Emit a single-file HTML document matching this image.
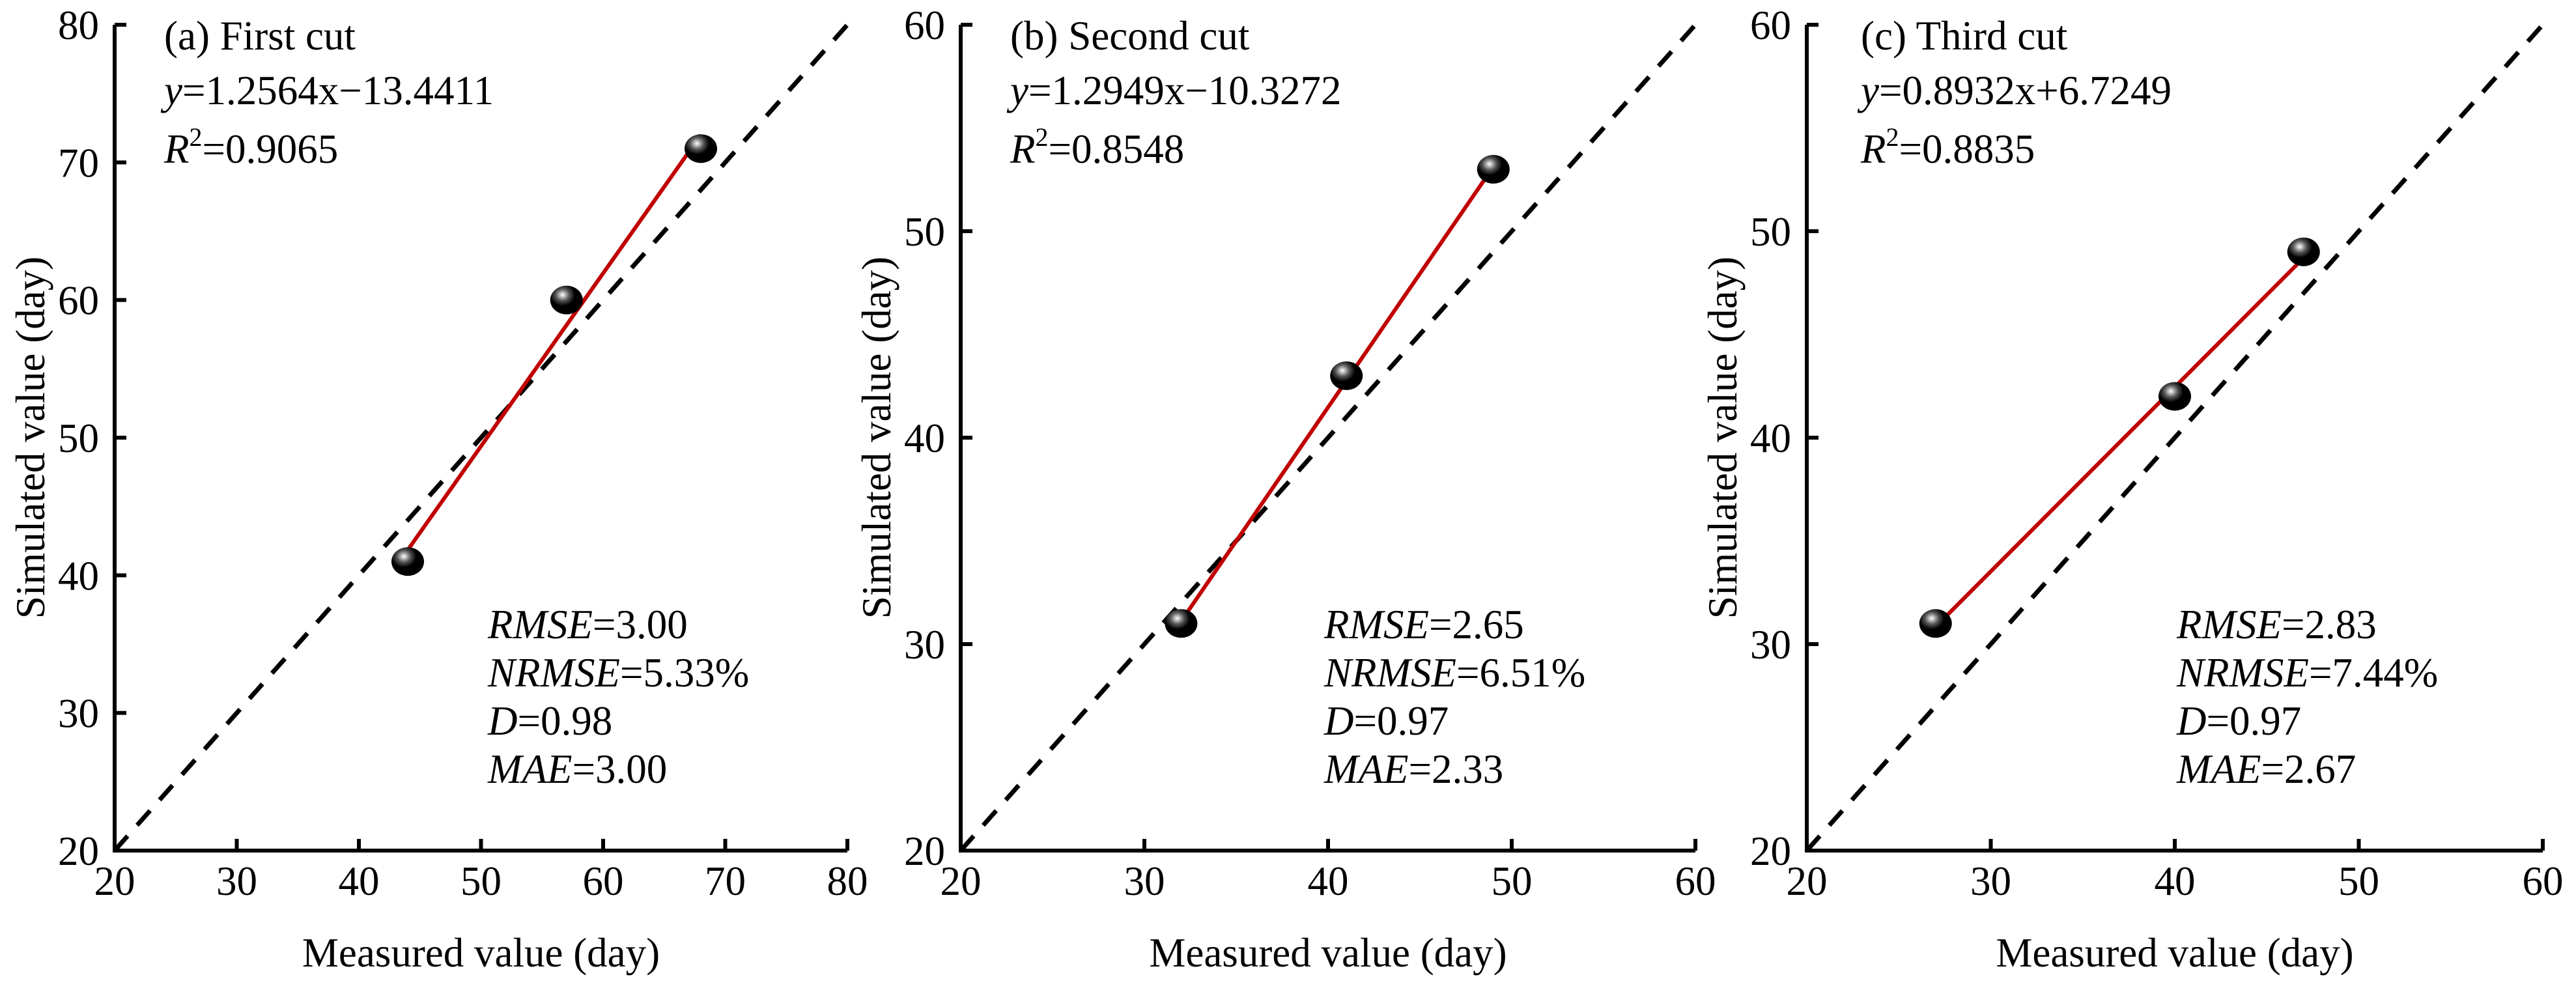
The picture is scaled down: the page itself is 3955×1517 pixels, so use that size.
<!DOCTYPE html>
<html><head><meta charset="utf-8"><style>
html,body{margin:0;padding:0;background:#fff;}
svg{display:block;font-family:"Liberation Serif",serif;}
</style></head><body>
<svg id="chart" width="3955" height="1517" viewBox="0 0 3955 1517" xmlns="http://www.w3.org/2000/svg">
<defs>
<radialGradient id="sph" cx="0.38" cy="0.32" r="0.7">
<stop offset="0" stop-color="#fff"/><stop offset="0.12" stop-color="#bbb"/><stop offset="0.3" stop-color="#555"/><stop offset="0.55" stop-color="#000"/><stop offset="1" stop-color="#000"/>
</radialGradient>
</defs>
</svg>
<script>
const panelTitles = ["(a) First cut", "(b) Second cut", "(c) Third cut"];
const eqSlope = [1.2564, 1.2949, 0.8932];
const eqIntercept = [-13.4411, -10.3272, 6.7249];
const eqText = ["=1.2564x\u221213.4411", "=1.2949x\u221210.3272", "=0.8932x+6.7249"];
const r2Text = ["=0.9065", "=0.8548", "=0.8835"];
const rmse = ["3.00", "2.65", "2.83"];
const nrmse = ["5.33%", "6.51%", "7.44%"];
const dIdx = ["0.98", "0.97", "0.97"];
const mae = ["3.00", "2.33", "2.67"];
const measA = [44, 57, 68], simA = [41, 60, 71];
const measB = [32, 41, 49], simB = [31, 43, 53];
const measC = [27, 40, 47], simC = [31, 42, 49];
const axisMin = [20, 20, 20], axisMax = [80, 60, 60];
const ticksA = [20, 30, 40, 50, 60, 70, 80];
const ticksBC = [20, 30, 40, 50, 60];

const NS = "http://www.w3.org/2000/svg";
const svg = document.getElementById("chart");
function mk(tag, attrs, parent, text){
  const e = document.createElementNS(NS, tag);
  for (const k in attrs) e.setAttribute(k, attrs[k]);
  if (text !== undefined) e.textContent = text;
  (parent || svg).appendChild(e);
  return e;
}
const layout = [
  {x0:176, x1:1301, ann:252, stat:749},
  {x0:1475, x1:2603, ann:1551, stat:2033},
  {x0:2774, x1:3904, ann:2857, stat:3342}
];
const Y0 = 1306, Y1 = 38;
const meas = [measA, measB, measC], sim = [simA, simB, simC];
const ticks = [ticksA, ticksBC, ticksBC];
const FS = 63;

for (let p = 0; p < 3; p++){
  const L = layout[p], mn = axisMin[p], mx = axisMax[p];
  const sx = v => L.x0 + (v - mn) / (mx - mn) * (L.x1 - L.x0);
  const sy = v => Y0 - (v - mn) / (mx - mn) * (Y0 - Y1);
  const g = mk("g", {});
  
  

  const d = mk("line", {x1:sx(mn), y1:sy(mn), x2:sx(mx), y2:sy(mx), stroke:"#000", "stroke-width":7, "stroke-dasharray":"30,22"}, g);
  
  

  const ax = mk("path", {d:`M${L.x0},${Y1} V${Y0} H${L.x1}`, fill:"none", stroke:"#000", "stroke-width":6}, g);
  
  

  ticks[p].forEach(t => {
    mk("line", {x1:sx(t), y1:Y0, x2:sx(t), y2:Y0 - 18, stroke:"#000", "stroke-width":6}, g);
    mk("line", {x1:L.x0, y1:sy(t), x2:L.x0 + 18, y2:sy(t), stroke:"#000", "stroke-width":6}, g);
    const xl = mk("text", {x:sx(t), y:1374, "font-size":FS, "text-anchor":"middle"}, g, String(t));
    
    
    const yl = mk("text", {x:L.x0 - 24, y:sy(t) + 22, "font-size":FS, "text-anchor":"end"}, g, String(t));
    
    
  });

  const xt = mk("text", {x:(L.x0 + L.x1) / 2, y:1484, "font-size":FS, "text-anchor":"middle"}, g, "Measured value (day)");
  
  
  const ytx = L.x0 - 108, yty = 672;
  const yt = mk("text", {x:ytx, y:yty, "font-size":FS, "text-anchor":"middle", transform:`rotate(-90 ${ytx} ${yty})`}, g, "Simulated value (day)");
  
  

  const xs = meas[p], ys = sim[p];
  const xmin = Math.min(...xs), xmax = Math.max(...xs);
  const f = v => eqSlope[p] * v + eqIntercept[p];
  const rl = mk("line", {x1:sx(xmin), y1:sy(f(xmin)), x2:sx(xmax), y2:sy(f(xmax)), stroke:"#c00000", "stroke-width":6}, g);
  
  

  xs.forEach((v, i) => {
    const c = mk("ellipse", {cx:sx(v), cy:sy(ys[i]), rx:25, ry:22, fill:"url(#sph)"}, g);
    
    
  });

  const t1 = mk("text", {x:L.ann, y:76, "font-size":FS}, g, panelTitles[p]);
  
  
  const t2 = mk("text", {x:L.ann, y:160, "font-size":FS}, g);
  
  
  mk("tspan", {"font-style":"italic"}, t2, "y");
  mk("tspan", {}, t2, eqText[p]);
  const t3 = mk("text", {x:L.ann, y:250, "font-size":FS}, g);
  
  
  mk("tspan", {"font-style":"italic"}, t3, "R");
  mk("tspan", {"font-size":40, dy:-26}, t3, "2");
  mk("tspan", {dy:26}, t3, r2Text[p]);

  const stats = [["RMSE", rmse[p]], ["NRMSE", nrmse[p]], ["D", dIdx[p]], ["MAE", mae[p]]];
  stats.forEach((s, i) => {
    const t = mk("text", {x:L.stat, y:980 + i * 74, "font-size":FS}, g);
    
    
    mk("tspan", {"font-style":"italic"}, t, s[0]);
    mk("tspan", {}, t, "=" + s[1]);
  });
}
</script>
</body></html>
